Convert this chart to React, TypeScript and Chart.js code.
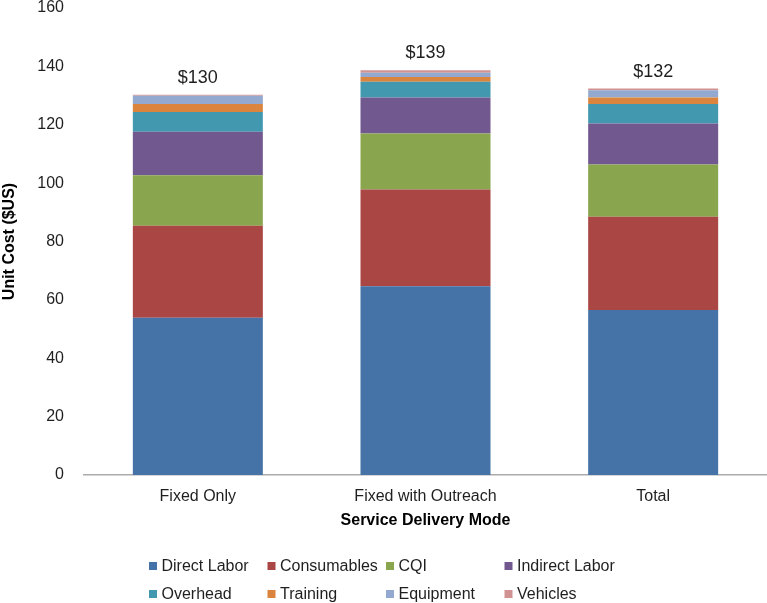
import React, { useEffect, useRef } from "react";
import { Chart, registerables } from "chart.js";

Chart.register(...registerables);

const categories = ["Fixed Only", "Fixed with Outreach", "Total"];
const seriesNames = [
  "Direct Labor",
  "Consumables",
  "CQI",
  "Indirect Labor",
  "Overhead",
  "Training",
  "Equipment",
  "Vehicles",
];
const seriesColors = [
  "#4572A7",
  "#AA4643",
  "#89A54E",
  "#71588F",
  "#4198AF",
  "#DB843D",
  "#93A9CF",
  "#D19392",
];
const directLabor = [53.9, 64.7, 56.5];
const consumables = [31.5, 33.1, 32.0];
const cqi = [17.3, 19.2, 17.9];
const indirectLabor = [14.9, 12.3, 14.0];
const overhead = [6.8, 5.4, 6.7];
const training = [2.7, 1.7, 2.2];
const equipment = [2.8, 1.4, 2.5];
const vehicles = [0.4, 0.9, 0.6];
const totalLabels = ["$130", "$139", "$132"];
const yTicks = [0, 20, 40, 60, 80, 100, 120, 140, 160];

const seriesValues = [
  directLabor,
  consumables,
  cqi,
  indirectLabor,
  overhead,
  training,
  equipment,
  vehicles,
];

const FONT = "'Liberation Sans', Arial, Helvetica, sans-serif";
const TEXT = "#1f1f1f";

const totalsPlugin = {
  id: "totalsLabels",
  afterDatasetsDraw(chart: any) {
    const ctx = chart.ctx;
    const lastMeta = chart.getDatasetMeta(chart.data.datasets.length - 1);
    ctx.save();
    ctx.font = `18px ${FONT}`;
    ctx.fillStyle = TEXT;
    ctx.textAlign = "center";
    ctx.textBaseline = "middle";
    lastMeta.data.forEach((el: any, i: number) => {
      ctx.fillText(totalLabels[i], el.x, el.y - 17);
    });
    ctx.restore();
  },
};

const gridLegendPlugin = {
  id: "gridLegend",
  afterDraw(chart: any) {
    const ctx = chart.ctx;
    const colX = [149, 267.5, 386, 504.5];
    const rowY = [566, 594];
    ctx.save();
    ctx.font = `16px ${FONT}`;
    ctx.textBaseline = "middle";
    ctx.textAlign = "left";
    seriesNames.forEach((name, i) => {
      const col = i % 4;
      const row = Math.floor(i / 4);
      const x = colX[col];
      const y = rowY[row];
      ctx.fillStyle = seriesColors[i];
      ctx.fillRect(x, y - 4, 8, 8);
      ctx.fillStyle = TEXT;
      ctx.fillText(name, x + 12.5, y + 1);
    });
    ctx.restore();
  },
};

export default function App() {
  const canvasRef = useRef<HTMLCanvasElement | null>(null);

  useEffect(() => {
    if (!canvasRef.current) return;
    const chart = new Chart(canvasRef.current, {
      type: "bar",
      data: {
        labels: categories,
        datasets: seriesNames.map((name, i) => ({
          label: name,
          data: seriesValues[i],
          backgroundColor: seriesColors[i],
          borderWidth: 0,
          barPercentage: 1,
          categoryPercentage: 0.571,
        })),
      },
      options: {
        animation: false,
        responsive: false,
        maintainAspectRatio: false,
        layout: { padding: { top: 8, bottom: 58, left: 0, right: 0 } },
        plugins: {
          legend: { display: false },
          tooltip: { enabled: false },
        },
        scales: {
          x: {
            stacked: true,
            afterFit: (scale: any) => {
              scale.height = 70;
              scale.paddingLeft = 0;
              scale.paddingRight = 0;
            },
            grid: { display: false, drawTicks: false },
            border: { display: true, color: "#ABABAB", width: 1.5 },
            ticks: {
              padding: 12,
              color: TEXT,
              font: { family: FONT, size: 16 },
            },
            title: {
              display: true,
              text: "Service Delivery Mode",
              color: "#000",
              font: { family: FONT, size: 16, weight: "bold" },
              padding: { top: 0, bottom: 15 },
            },
          },
          y: {
            stacked: true,
            min: 0,
            max: 160,
            afterFit: (scale: any) => {
              scale.width = 84;
              scale.paddingTop = 0;
              scale.paddingBottom = 0;
            },
            afterBuildTicks: (scale: any) => {
              scale.ticks = yTicks.map((v) => ({ value: v }));
            },
            grid: { display: false, drawTicks: false },
            border: { display: false },
            ticks: {
              padding: 20,
              color: TEXT,
              font: { family: FONT, size: 16 },
            },
            title: {
              display: true,
              text: "Unit Cost ($US)",
              color: "#000",
              font: { family: FONT, size: 16, weight: "bold" },
              padding: { top: 0, bottom: 0 },
            },
          },
        },
      },
      plugins: [totalsPlugin, gridLegendPlugin],
    });
    return () => chart.destroy();
  }, []);

  return (
    <div
      style={{
        position: "absolute",
        left: 0,
        top: 0,
        width: 767,
        height: 603,
        background: "#fff",
      }}
    >
      <canvas
        ref={canvasRef}
        width={767}
        height={603}
        style={{ display: "block", width: 767, height: 603 }}
      />
    </div>
  );
}
